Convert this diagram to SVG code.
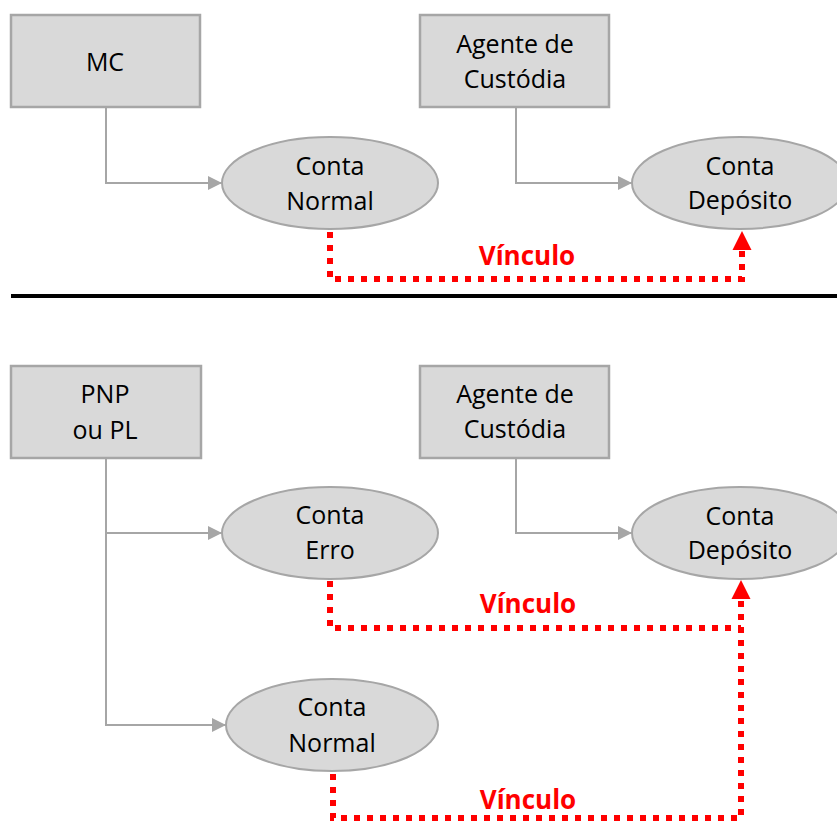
<svg xmlns="http://www.w3.org/2000/svg" width="837" height="837" viewBox="0 0 837 837">
<style>
.box{fill:#d9d9d9;stroke:#a6a6a6;stroke-width:2.5}
.ell{fill:#d9d9d9;stroke:#a6a6a6;stroke-width:2}
.t{font-family:"Open Sans","Liberation Sans",sans-serif;font-size:25px;fill:#000;text-anchor:middle}
.v{font-family:"Open Sans","Liberation Sans",sans-serif;font-size:26px;font-weight:bold;fill:#ff0000;text-anchor:middle}
.gc{fill:none;stroke:#a6a6a6;stroke-width:2}
.rd{fill:none;stroke:#ff0000;stroke-width:6;stroke-dasharray:6 7}
</style>
<defs>
<marker id="ga" viewBox="0 0 14 14" refX="14" refY="7" markerWidth="14" markerHeight="14" markerUnits="userSpaceOnUse" orient="auto">
<path d="M0,0 L14,7 L0,14 Z" fill="#a6a6a6"/>
</marker>
</defs>
<rect width="837" height="837" fill="#fff"/>

<g id="connectors">
<path class="gc" d="M106,107 V183 H222" marker-end="url(#ga)"/>
<path class="gc" d="M516,107 V183 H632" marker-end="url(#ga)"/>
<path class="gc" d="M106,458 V725 H226" marker-end="url(#ga)"/>
<path class="gc" d="M106,533 H222" marker-end="url(#ga)"/>
<path class="gc" d="M516,458 V533 H632" marker-end="url(#ga)"/>
<path class="rd" d="M330,232 V279 H742 V250"/>
<polygon points="742,231 751.5,250 732.5,250" fill="#ff0000"/>
<path class="rd" d="M330,581 V628 H741"/>
<path class="rd" d="M333,774 V818 H741 V599"/>
<polygon points="741,580 750.5,599 731.5,599" fill="#ff0000"/>
<text class="v" x="527" y="265">Vínculo</text>
<text class="v" x="528" y="613">Vínculo</text>
<text class="v" x="528" y="809">Vínculo</text>
</g>

<line x1="11" y1="296" x2="837" y2="296" stroke="#000" stroke-width="4"/>

<g id="mc">
<rect class="box" x="11" y="15" width="189" height="92"/>
<text class="t" x="105" y="71">MC</text>
</g>
<g id="agente1">
<rect class="box" x="420" y="15" width="189" height="92"/>
<text class="t" x="515" y="53">Agente de</text>
<text class="t" x="515" y="88">Custódia</text>
</g>
<g id="contaNormal1">
<ellipse class="ell" cx="330" cy="183" rx="108" ry="46"/>
<text class="t" x="330" y="175">Conta</text>
<text class="t" x="330" y="210">Normal</text>
</g>
<g id="contaDeposito1">
<ellipse class="ell" cx="740" cy="183" rx="108" ry="46"/>
<text class="t" x="740" y="175">Conta</text>
<text class="t" x="740" y="209">Depósito</text>
</g>

<g id="pnp">
<rect class="box" x="11" y="366" width="190" height="92"/>
<text class="t" x="105" y="403">PNP</text>
<text class="t" x="105" y="439">ou PL</text>
</g>
<g id="agente2">
<rect class="box" x="420" y="366" width="189" height="92"/>
<text class="t" x="515" y="403">Agente de</text>
<text class="t" x="515" y="438">Custódia</text>
</g>
<g id="contaErro">
<ellipse class="ell" cx="330" cy="533" rx="108" ry="46"/>
<text class="t" x="330" y="524">Conta</text>
<text class="t" x="330" y="559">Erro</text>
</g>
<g id="contaDeposito2">
<ellipse class="ell" cx="740" cy="533" rx="108" ry="46"/>
<text class="t" x="740" y="525">Conta</text>
<text class="t" x="740" y="559">Depósito</text>
</g>
<g id="contaNormal2">
<ellipse class="ell" cx="332" cy="725" rx="106" ry="46"/>
<text class="t" x="332" y="716">Conta</text>
<text class="t" x="332" y="752">Normal</text>
</g>
</svg>
